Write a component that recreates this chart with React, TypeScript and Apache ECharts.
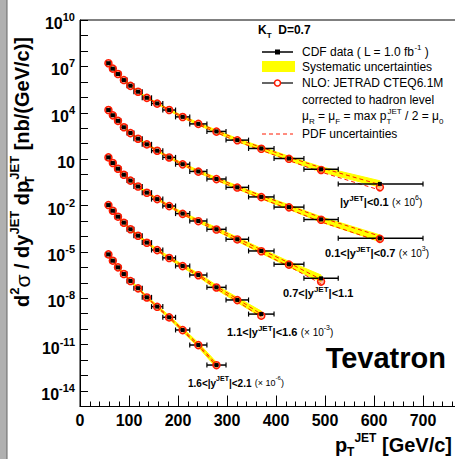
import React, { useEffect, useRef } from 'react';
import * as echarts from 'echarts';

// ---------------- data ----------------
const binEdges = [54, 62, 72, 83, 96, 110, 127, 146, 169, 195, 224, 259, 298, 344, 396, 457, 527, 700];
const ptMean = [58, 67, 77.5, 89.5, 103, 118.5, 136.5, 157.5, 182, 209.5, 241.5, 278.5, 321, 370, 426.5, 492, 612];

// measured cross sections (already scaled as in the labels)
const data01 = [1.6e7, 7.1e6, 3.2e6, 1.3e6, 5.6e5, 2.3e5, 9.3e4, 4.0e4, 1.5e4, 5.4e3, 1.9e3, 620, 170, 49, 11, 2.2, 0.25];
const data07 = [1.5e4, 6.9e3, 3.0e3, 1150, 490, 210, 91, 35, 13, 4.7, 1.6, 0.52, 0.15, 0.036, 7.9e-3, 1.26e-3, 7.6e-5];
const data11 = [13, 5.6, 2.4, 0.98, 0.41, 0.17, 0.068, 0.026, 9.3e-3, 3.0e-3, 1.0e-3, 2.9e-4, 6.6e-5, 1.15e-5, 1.6e-6, 1.95e-7];
const data16 = [1.07e-2, 4.6e-3, 1.9e-3, 7.8e-4, 2.9e-4, 1.12e-4, 4.0e-5, 1.32e-5, 4.1e-6, 1.23e-6, 3.2e-7, 5.1e-8, 7.8e-9, 9.5e-10];
const data21 = [6.9e-6, 2.7e-6, 1.0e-6, 3.7e-7, 1.32e-7, 4.5e-8, 1.15e-8, 2.9e-9, 5.9e-10, 8.9e-11, 9.5e-12, 4.8e-13];

// NLO predictions
const nlo01 = [1.6e7, 7.2e6, 3.2e6, 1.3e6, 5.5e5, 2.3e5, 9.2e4, 3.9e4, 1.5e4, 5.3e3, 1.9e3, 600, 165, 47, 10.5, 2.0, 0.15];
const nlo07 = [1.5e4, 6.8e3, 3.0e3, 1150, 480, 210, 90, 35, 12.8, 4.6, 1.55, 0.51, 0.145, 0.035, 7.6e-3, 1.2e-3, 7.0e-5];
const nlo11 = [13, 5.6, 2.4, 0.97, 0.41, 0.17, 0.067, 0.026, 9.1e-3, 2.9e-3, 9.7e-4, 2.8e-4, 6.4e-5, 1.1e-5, 1.5e-6, 1.2e-7];
const nlo16 = [1.07e-2, 4.6e-3, 1.9e-3, 7.7e-4, 2.9e-4, 1.1e-4, 3.9e-5, 1.3e-5, 4.0e-6, 1.2e-6, 3.1e-7, 5.0e-8, 7.6e-9, 7.5e-10];
const nlo21 = [6.9e-6, 2.7e-6, 1.0e-6, 3.7e-7, 1.3e-7, 4.4e-8, 1.13e-8, 2.8e-9, 5.8e-10, 8.7e-11, 9.3e-12, 4.7e-13];

// systematic uncertainties (%)
const sys01 = [10, 10, 10, 10, 10, 11, 12, 13, 15, 17, 20, 23, 27, 32, 38, 46, 60];
const sys07 = [10, 10, 10, 10, 11, 12, 13, 14, 16, 18, 21, 25, 29, 34, 41, 50, 65];
const sys11 = [11, 11, 11, 11, 12, 13, 14, 16, 18, 21, 25, 30, 36, 43, 52, 64];
const sys16 = [12, 12, 12, 13, 14, 15, 17, 19, 22, 26, 31, 38, 46, 56];
const sys21 = [14, 14, 14, 15, 16, 18, 20, 23, 27, 33, 41, 52];

// PDF uncertainties (%) per pT bin
const pdfPct = [4, 4, 4, 4, 5, 5, 6, 7, 8, 10, 12, 15, 19, 24, 30, 38, 50];

const yTickLabelExps = [10, 7, 4, 1, -2, -5, -8, -11, -14];
const xTickLabels = [0, 100, 200, 300, 400, 500, 600, 700];

// ---------------- styles ----------------
const FONT = "'Liberation Sans', Arial, Helvetica, sans-serif";
const RED = '#ff1a00';
const YELLOW = '#ffff00';
const t = (size: number, bold: boolean, extra: any = {}) => ({
  fontSize: size,
  fontWeight: bold ? 'bold' : 'normal',
  fontFamily: FONT,
  color: '#000',
  ...extra,
});

const rapBins = [
  { data: data01, nlo: nlo01, sys: sys01 },
  { data: data07, nlo: nlo07, sys: sys07 },
  { data: data11, nlo: nlo11, sys: sys11 },
  { data: data16, nlo: nlo16, sys: sys16 },
  { data: data21, nlo: nlo21, sys: sys21 },
];

const rapLabels = [
  { text: '{b||y}{bs|JET}{b||<0.1} {n|(× 10}{ns|6}{n|)}', x: 340, y: 202, small: false },
  { text: '{b|0.1<|y}{bs|JET}{b||<0.7} {n|(× 10}{ns|3}{n|)}', x: 325, y: 253, small: false },
  { text: '{b|0.7<|y}{bs|JET}{b||<1.1}', x: 283, y: 293, small: false },
  { text: '{b|1.1<|y}{bs|JET}{b||<1.6} {n|(× 10}{ns|-3}{n|)}', x: 227, y: 332, small: false },
  { text: '{b|1.6<|y}{bs|JET}{b||<2.1} {n|(× 10}{ns|-6}{n|)}', x: 188, y: 383, small: true },
];

function buildOption() {
  const series: any[] = [];
  rapBins.forEach((rb, k) => {
    const n = rb.data.length;
    const xs = ptMean.slice(0, n);
    // systematic band
    series.push({
      type: 'custom',
      name: 'sys' + k,
      xAxisIndex: 0,
      yAxisIndex: 0,
      silent: true,
      z: 1,
      data: [[xs[0], rb.data[0]]],
      renderItem: (_p: any, api: any) => {
        const up = xs.map((x, i) => api.coord([x, rb.data[i] * (1 + rb.sys[i] / 100)]));
        const lo = xs.map((x, i) => api.coord([x, rb.data[i] / (1 + rb.sys[i] / 100)])).reverse();
        return {
          type: 'polygon',
          shape: { points: up.concat(lo) },
          style: { fill: YELLOW, stroke: YELLOW, lineWidth: 1 },
        };
      },
    });
    // pdf uncertainty dashed lines
    [1, -1].forEach((sgn) => {
      series.push({
        type: 'line',
        xAxisIndex: 0,
        yAxisIndex: 0,
        silent: true,
        z: 2,
        symbol: 'none',
        lineStyle: { color: RED, width: 1, type: [4, 3] },
        data: xs.map((x, i) => [x, sgn > 0 ? rb.nlo[i] * (1 + pdfPct[i] / 100) : rb.nlo[i] / (1 + pdfPct[i] / 100)]),
      });
    });
    // horizontal error bars
    series.push({
      type: 'custom',
      xAxisIndex: 0,
      yAxisIndex: 0,
      silent: true,
      z: 3,
      encode: { x: [0, 1], y: 2 },
      data: rb.data.map((v, i) => [binEdges[i], binEdges[i + 1], v]),
      renderItem: (_p: any, api: any) => {
        const a = api.coord([api.value(0), api.value(2)]);
        const b = api.coord([api.value(1), api.value(2)]);
        const st = { stroke: '#000', lineWidth: 1.5 };
        return {
          type: 'group',
          children: [
            { type: 'line', shape: { x1: a[0], y1: a[1], x2: b[0], y2: b[1] }, style: st },
            { type: 'line', shape: { x1: a[0], y1: a[1] - 2.5, x2: a[0], y2: a[1] + 2.5 }, style: { stroke: '#000', lineWidth: 1.2 } },
            { type: 'line', shape: { x1: b[0], y1: b[1] - 2.5, x2: b[0], y2: b[1] + 2.5 }, style: { stroke: '#000', lineWidth: 1.2 } },
          ],
        };
      },
    });
    // NLO circles
    series.push({
      type: 'scatter',
      xAxisIndex: 0,
      yAxisIndex: 0,
      silent: true,
      z: 4,
      symbol: 'circle',
      symbolSize: 7,
      itemStyle: { color: 'rgba(255,110,70,0.45)', borderColor: RED, borderWidth: 1.5, opacity: 1 },
      data: xs.map((x, i) => [x, rb.nlo[i]]),
    });
    // data squares
    series.push({
      type: 'scatter',
      xAxisIndex: 0,
      yAxisIndex: 0,
      silent: true,
      z: 5,
      symbol: 'rect',
      symbolSize: 4,
      itemStyle: { color: '#000', opacity: 1 },
      data: xs.map((x, i) => [x, rb.data[i]]),
    });
  });

  const graphic: any[] = [];
  // left striped strip (scan artifact)
  graphic.push({ type: 'rect', shape: { x: 0, y: 0, width: 7, height: 459 }, style: { fill: '#b0b0b0' }, silent: true });
  graphic.push({ type: 'line', shape: { x1: 7, y1: 0, x2: 7, y2: 459 }, style: { stroke: '#666', lineWidth: 1 }, silent: true });

  // legend
  const lx1 = 262, lx2 = 293, lmx = 277.5, ltx = 302;
  graphic.push({
    type: 'text', x: 258, y: 30,
    style: {
      text: '{b|K}{bsub|T}{b|  D=0.7}', verticalAlign: 'middle', align: 'left',
      rich: { b: t(12, true, { lineHeight: 18 }), bsub: t(8, true, { lineHeight: 8, verticalAlign: 'bottom' }) },
    },
  });
  graphic.push({ type: 'line', shape: { x1: lx1, y1: 52, x2: lx2, y2: 52 }, style: { stroke: '#000', lineWidth: 1.5 } });
  graphic.push({ type: 'rect', shape: { x: lmx - 2.5, y: 49.5, width: 5, height: 5 }, style: { fill: '#000' } });
  graphic.push({ type: 'rect', shape: { x: lx1, y: 61, width: 33, height: 11 }, style: { fill: YELLOW } });
  graphic.push({ type: 'line', shape: { x1: lx1, y1: 83, x2: lx2, y2: 83 }, style: { stroke: '#333', lineWidth: 1.5 } });
  graphic.push({ type: 'circle', shape: { cx: lmx, cy: 83, r: 3 }, style: { fill: '#fff', stroke: RED, lineWidth: 1.5 } });
  graphic.push({ type: 'line', shape: { x1: lx1, y1: 134, x2: lx2, y2: 134 }, style: { stroke: RED, lineWidth: 1, lineDash: [4, 3] } });

  const legRich = {
    n: t(12, false, { lineHeight: 18 }),
    s: t(8, false, { lineHeight: 8, verticalAlign: 'top' }),
    sub: t(8, false, { lineHeight: 8, verticalAlign: 'bottom' }),
    subw: t(8, false, { lineHeight: 8, verticalAlign: 'bottom', width: 1 }),
  };
  const legRows = [
    { y: 52, text: '{n|CDF data ( L = 1.0 fb}{s|-1}{n| )}' },
    { y: 66.5, text: '{n|Systematic uncertainties}' },
    { y: 83, text: '{n|NLO: JETRAD CTEQ6.1M}' },
    { y: 99.5, text: '{n|corrected to hadron level}' },
    { y: 116, text: '{n|μ}{sub|R}{n| = μ}{sub|F}{n| = max p}{subw|T}{s|JET}{n| / 2 = μ}{sub|0}' },
    { y: 134, text: '{n|PDF uncertainties}' },
  ];
  legRows.forEach((r) => {
    graphic.push({
      type: 'text', x: ltx, y: r.y,
      style: { text: r.text, align: 'left', verticalAlign: 'middle', rich: legRich },
    });
  });

  // rapidity labels
  rapLabels.forEach((l) => {
    const bs = l.small ? 10 : 11;
    graphic.push({
      type: 'text', x: l.x, y: l.y,
      style: {
        text: l.text, align: 'left', verticalAlign: 'middle',
        rich: {
          b: t(bs, true, { lineHeight: 16 }),
          bs: t(bs - 3, true, { lineHeight: 8, verticalAlign: 'top' }),
          n: t(bs - 1, false, { lineHeight: 16 }),
          ns: t(bs - 4, false, { lineHeight: 8, verticalAlign: 'top' }),
        },
      },
    });
  });

  // Tevatron
  graphic.push({
    type: 'text', x: 446, y: 358,
    style: { text: 'Tevatron', align: 'right', verticalAlign: 'middle', ...t(29, true), fill: '#000' },
  });

  // x title
  graphic.push({
    type: 'text', x: 452, y: 445,
    style: {
      text: '{b|p}{sub|T}{sup|JET}{b| [GeV/c]}', align: 'right', verticalAlign: 'middle',
      rich: {
        b: t(20, true, { lineHeight: 26 }),
        sub: t(12, true, { lineHeight: 12, verticalAlign: 'bottom' }),
        sup: t(12, true, { lineHeight: 12, verticalAlign: 'top' }),
      },
    },
  });

  // y title (rotated)
  graphic.push({
    type: 'text', x: 22, y: 172, rotation: Math.PI / 2,
    style: {
      text: '{b|d}{sup|2}{g|σ}{b| / dy}{sup|JET}{b| dp}{sub|T}{sup|JET}{b| [nb/(GeV/c)]}',
      align: 'center', verticalAlign: 'middle',
      rich: {
        b: t(20, true, { lineHeight: 28 }),
        g: t(21, false, { lineHeight: 28 }),
        sup: t(13, true, { lineHeight: 13, verticalAlign: 'top' }),
        sub: t(13, true, { lineHeight: 13, verticalAlign: 'bottom', width: 1 }),
      },
    },
  });

  return {
    animation: false,
    backgroundColor: '#ffffff',
    grid: {
      left: 80, top: 20, right: -17, bottom: 52.5,
      show: true, borderColor: '#000', borderWidth: 1, backgroundColor: 'transparent',
      containLabel: false, outerBoundsMode: 'none',
    },
    xAxis: [
      {
        type: 'value', min: 0, max: 800, interval: 100, position: 'bottom',
        axisLine: { show: true, lineStyle: { color: '#000', width: 1 } },
        axisTick: { show: true, inside: true, length: 11, lineStyle: { color: '#000', width: 1 } },
        splitLine: { show: false },
        axisLabel: {
          show: true, margin: 6, hideOverlap: false,
          ...t(16, true),
          formatter: (v: number) => (xTickLabels.indexOf(Math.round(v)) >= 0 && Math.abs(v - Math.round(v)) < 1e-6 ? String(Math.round(v)) : ''),
        },
      },
      {
        type: 'value', min: 0, max: 800, interval: 20, position: 'bottom',
        axisLine: { show: false },
        axisTick: { show: true, inside: true, length: 5, lineStyle: { color: '#000', width: 1 } },
        splitLine: { show: false },
        axisLabel: { show: false },
      },
    ],
    yAxis: [
      {
        type: 'log', logBase: 10, min: 1e-15, max: 1e10, interval: 1,
        axisLine: { show: true, lineStyle: { color: '#000', width: 1 } },
        axisTick: { show: true, inside: true, length: 8, lineStyle: { color: '#000', width: 1 } },
        splitLine: { show: false },
        minorTick: { show: false },
        axisLabel: {
          show: true, margin: 5, hideOverlap: false, padding: [7, 0, 0, 0],
          ...t(16, true),
          formatter: (v: number) => {
            const e = Math.round(Math.log10(v));
            if (yTickLabelExps.indexOf(e) < 0) return '';
            if (e === 1) return '{b|10}';
            return '{b|10}{s|' + e + '}';
          },
          rich: {
            b: t(16, true, { lineHeight: 24 }),
            s: t(11, true, { lineHeight: 11, verticalAlign: 'top' }),
          },
        },
      },
    ],
    series,
    graphic,
  };
}

export default function App() {
  const ref = useRef<HTMLDivElement>(null);
  useEffect(() => {
    if (!ref.current) return;
    const chart = echarts.init(ref.current, null, { renderer: 'svg' });
    chart.setOption(buildOption() as any);
    return () => chart.dispose();
  }, []);
  return (
    <div
      ref={ref}
      style={{ position: 'absolute', left: 0, top: 0, width: 455, height: 459, background: '#fff', overflow: 'hidden' }}
    />
  );
}
